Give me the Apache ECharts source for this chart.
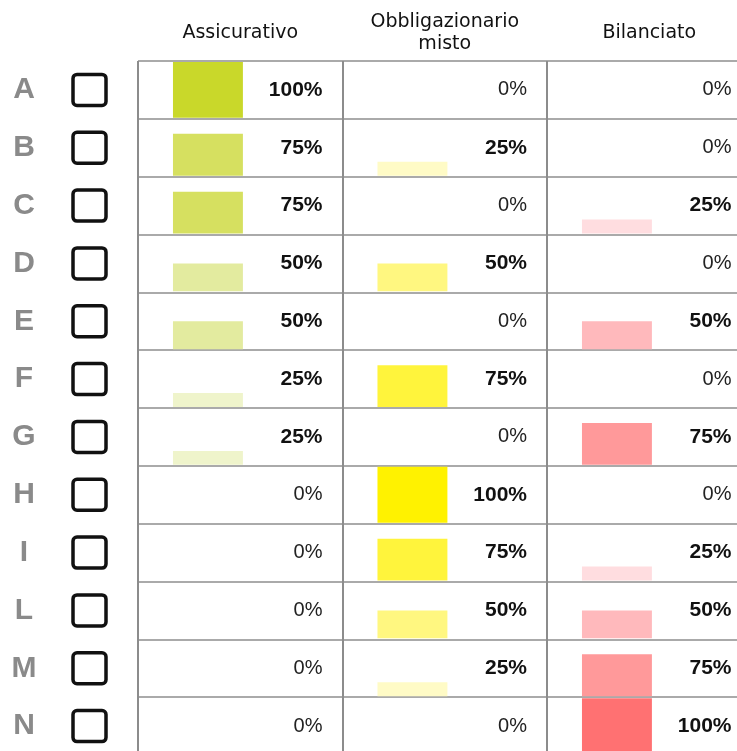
<!DOCTYPE html>
<html>
<head>
<meta charset="utf-8">
<script src="https://cdn.jsdelivr.net/npm/echarts@6/dist/echarts.min.js"></script>
<style>html,body{margin:0;padding:0;background:#fff;}#c{width:737px;height:751px;}</style>
</head>
<body>
<div id="c"></div>
<script>
const rows = ['A','B','C','D','E','F','G','H','I','L','M','N'];
const headers = ['Assicurativo', 'Obbligazionario\nmisto', 'Bilanciato'];
const assicurativo    = [100, 75, 75, 50, 50, 25, 25, 0, 0, 0, 0, 0];
const obbligazionario = [0, 25, 0, 50, 0, 75, 0, 100, 75, 50, 25, 0];
const bilanciato      = [0, 0, 25, 0, 50, 0, 75, 0, 25, 50, 75, 100];

const palettes = [
  {25: '#eff4cb', 50: '#e3eb9f', 75: '#d6e060', 100: '#c9d82a'},
  {25: '#fffbc6', 50: '#fff780', 75: '#fff43c', 100: '#fff200'},
  {25: '#ffdde0', 50: '#ffb9bc', 75: '#ff999a', 100: '#ff7172'}
];

function makeRender(palette) {
  return function (params, api) {
    const c = api.value(0), r = api.value(1), v = api.value(2);
    const center = api.coord([c, r]);
    const size = api.size([1, 1]);
    const cw = size[0], rh = size[1];
    const left = center[0] - cw / 2;
    const bottom = center[1] + rh / 2 - 1;
    const h = (rh - 2) * v / 100;
    const children = [];
    if (v > 0) {
      children.push({
        type: 'rect',
        shape: {x: left + cw * 0.171, y: bottom - h, width: cw * 0.342, height: h},
        style: {fill: palette[v]}
      });
    }
    children.push({
      type: 'text',
      style: {
        text: v + '%',
        x: left + cw - 20,
        y: center[1],
        align: 'right',
        verticalAlign: 'middle',
        fontFamily: 'Liberation Sans, Arial, sans-serif',
        fontSize: v > 0 ? 21 : 20,
        fontWeight: v > 0 ? 'bold' : 'normal',
        fill: v > 0 ? '#111' : '#222'
      }
    });
    return {type: 'group', children: children};
  };
}

const columns = [assicurativo, obbligazionario, bilanciato];
const series = columns.map(function (vals, ci) {
  return {
    type: 'custom',
    renderItem: makeRender(palettes[ci]),
    data: vals.map(function (v, ri) { return [ci, ri, v]; }),
    encode: {x: 0, y: 1}
  };
});

const chart = echarts.init(document.getElementById('c'));
chart.setOption({
  animation: false,
  grid: {left: 138, top: 61, width: 613.5, height: 694, outerBoundsMode: 'none', containLabel: false},
  xAxis: {
    type: 'category',
    position: 'top',
    data: headers,
    axisLine: {show: false},
    axisTick: {show: false},
    axisLabel: {
      interval: 0,
      fontFamily: 'DejaVu Sans, sans-serif',
      fontSize: 19,
      color: '#111',
      margin: 28,
      verticalAlign: 'middle',
      lineHeight: 22
    },
    splitLine: {show: true, lineStyle: {color: '#8c8c8c', width: 2}}
  },
  yAxis: {
    type: 'category',
    inverse: true,
    data: rows,
    axisLine: {show: false},
    axisTick: {show: false},
    splitLine: {show: true, lineStyle: {color: '#aaaaaa', width: 2}},
    axisLabel: {
      interval: 0,
      margin: 32,
      formatter: function (v) { return '{l|' + v + '}{g| }{b| }'; },
      rich: {
        l: {width: 48, align: 'center', fontFamily: 'Liberation Sans, Arial, sans-serif', fontWeight: 'bold', fontSize: 30, color: '#8a8a8a'},
        g: {width: 25, fontSize: 10},
        b: {width: 33, height: 31, borderColor: '#111', borderWidth: 3.5, borderRadius: 4, fontSize: 10}
      }
    }
  },
  series: series
});
</script>
</body>
</html>
